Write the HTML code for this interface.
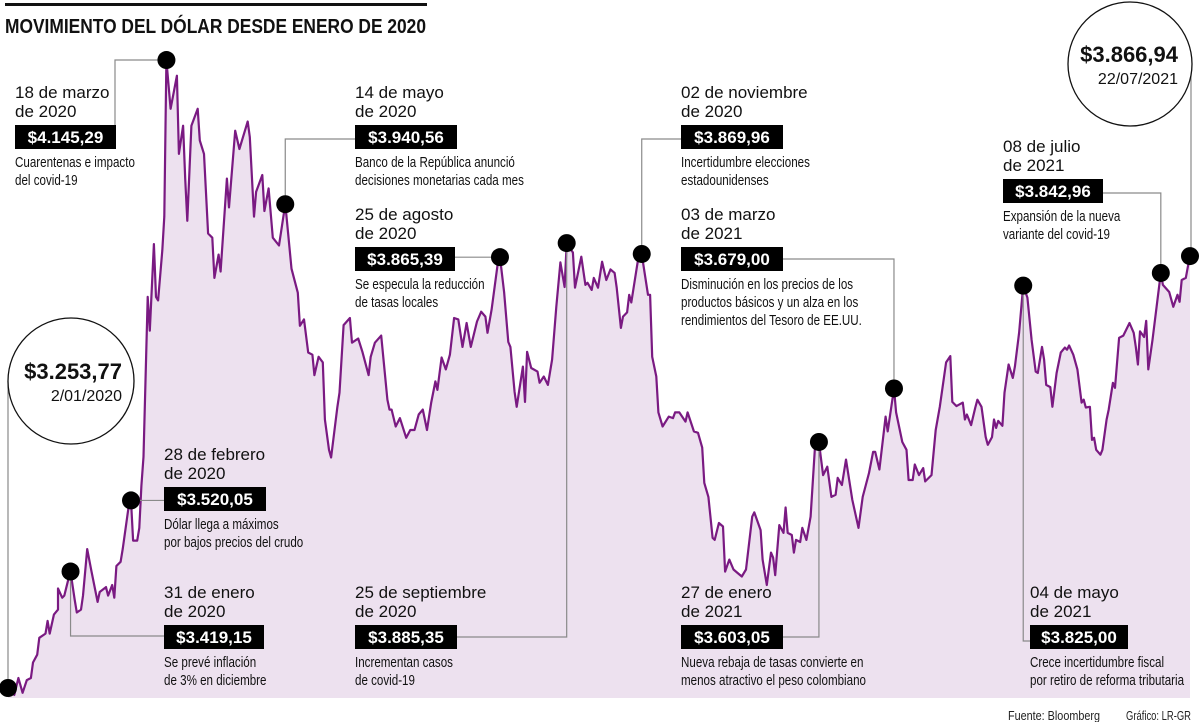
<!DOCTYPE html>
<html><head><meta charset="utf-8">
<style>
html,body{margin:0;padding:0;background:#fff;}
svg{display:block;font-family:"Liberation Sans",sans-serif;}
</style></head>
<body>
<svg id="chart" width="1200" height="722" viewBox="0 0 1200 722" xmlns="http://www.w3.org/2000/svg">
  <rect x="5" y="3" width="422" height="3" fill="#111"/>
  <text x="5" y="33" font-size="20" font-weight="bold" fill="#111" textLength="421" lengthAdjust="spacingAndGlyphs">MOVIMIENTO DEL DÓLAR DESDE ENERO DE 2020</text>
  <g id="plot"></g>
  <g id="annots"></g>
  <text x="1008" y="720" font-size="13" fill="#222" textLength="92" lengthAdjust="spacingAndGlyphs">Fuente: Bloomberg</text>
  <text x="1126" y="720" font-size="13" fill="#222" textLength="65" lengthAdjust="spacingAndGlyphs">Gráfico: LR-GR</text>
</svg>
<script>
// Days since 2020-01-02
const days = [0,3,5,7,9,11,12,14,15,18,19,20,22,24,24,26,27,29,30,32,33,35,36,38,40,43,44,47,48,50,51,52,54,55,58,59,60,62,63,64,65,67,68,70,71,72,74,75,76,78,81,82,84,85,86,88,91,92,94,96,98,99,101,102,105,106,109,111,115,116,118,119,122,123,125,127,130,133,136,139,140,142,144,146,147,149,151,152,154,155,158,159,161,164,165,168,170,173,174,176,179,182,183,184,186,188,191,193,195,197,199,201,203,205,206,208,210,212,214,216,218,220,222,225,227,229,230,232,235,236,238,240,241,243,244,247,248,249,251,254,255,257,259,261,263,265,267,268,271,272,275,277,278,280,281,283,285,287,289,291,292,294,295,297,298,299,302,304,307,308,309,311,312,314,317,319,320,322,325,326,329,331,333,334,336,338,339,341,343,344,346,348,350,352,354,357,358,361,362,364,366,367,368,370,372,373,374,376,377,378,380,381,383,385,387,389,391,393,395,397,398,400,402,405,408,410,413,415,416,418,421,422,425,426,429,431,432,434,435,437,439,440,443,445,447,450,452,453,455,458,459,460,462,464,465,467,469,470,472,473,474,475,477,478,480,482,483,485,487,489,491,493,494,496,497,498,500,501,503,505,507,508,509,511,513,515,516,517,519,520,521,522,524,525,527,528,530,531,533,535,536,538,540,541,542,543,545,546,547,549,551,553,554,557,559,561,562,563,565,566,567];
// COP per USD
const prices = [3254,3244,3268,3247,3265,3268,3290,3301,3325,3331,3349,3331,3358,3365,3395,3382,3385,3409,3419,3379,3361,3365,3385,3451,3420,3376,3390,3397,3385,3400,3382,3427,3433,3451,3514,3520,3463,3463,3481,3541,3582,3809,3761,3884,3809,3804,3875,3923,4145,4076,4123,4012,4052,3977,3917,4052,4076,4031,4012,3899,3893,3836,3869,3845,3977,3936,4045,4019,4058,4036,3923,3958,3982,3931,3963,3893,3882,3941,3849,3815,3768,3777,3730,3727,3698,3724,3716,3635,3592,3581,3653,3673,3769,3779,3744,3750,3731,3698,3724,3744,3754,3663,3649,3649,3625,3637,3609,3620,3620,3642,3649,3620,3659,3689,3677,3723,3706,3727,3779,3777,3738,3772,3738,3774,3788,3781,3758,3791,3858,3865,3816,3745,3738,3674,3653,3710,3660,3731,3708,3703,3687,3696,3684,3720,3795,3858,3823,3885,3872,3822,3866,3826,3829,3819,3836,3822,3859,3833,3848,3843,3822,3765,3781,3787,3812,3801,3858,3870,3812,3812,3724,3696,3645,3625,3639,3637,3645,3645,3632,3645,3618,3616,3595,3545,3525,3467,3464,3488,3483,3419,3436,3422,3417,3412,3422,3497,3503,3478,3436,3400,3446,3439,3414,3485,3474,3510,3474,3471,3446,3464,3461,3481,3464,3497,3592,3603,3556,3568,3525,3528,3552,3542,3578,3521,3481,3525,3559,3589,3589,3564,3639,3618,3679,3645,3603,3592,3549,3549,3571,3556,3566,3547,3556,3620,3653,3716,3725,3660,3654,3659,3635,3642,3627,3652,3663,3653,3610,3599,3610,3635,3623,3633,3626,3673,3713,3694,3710,3758,3825,3808,3748,3703,3701,3738,3720,3684,3681,3653,3701,3730,3737,3734,3740,3727,3706,3659,3663,3652,3653,3606,3609,3592,3585,3592,3635,3649,3687,3680,3751,3754,3760,3772,3758,3738,3713,3760,3752,3775,3706,3748,3795,3843,3826,3816,3795,3812,3802,3833,3836,3852,3867];
// Annotated points
const annotDays = [0,30,59,76,133,236,268,304,389,425,487,553,567];
const annotValues = [3253.77,3419.15,3520.05,4145.29,3940.56,3865.39,3885.35,3869.96,3603.05,3679.00,3825.00,3842.96,3866.94];

const NS="http://www.w3.org/2000/svg";
const X0=8, X1=1190, DMAX=567, BASEV=3253.77, BASEY=688, PXPER=0.7044, FLOOR=698;
function xs(d){return X0+d*(X1-X0)/DMAX;}
function ys(v){return BASEY-(v-BASEV)*PXPER;}
function mk(tag,attrs,parent){const e=document.createElementNS(NS,tag);for(const k in attrs)e.setAttribute(k,attrs[k]);parent.appendChild(e);return e;}

const plot=document.getElementById('plot');
let pts=days.map((d,i)=>xs(d).toFixed(1)+','+ys(prices[i]).toFixed(1));
const area=mk('path',{d:'M'+xs(days[0])+','+FLOOR+' L'+pts.join(' L')+' L'+xs(days[days.length-1])+','+FLOOR+' Z',fill:'#ede1ef'},plot);


const line=mk('path',{d:'M'+pts.join(' L'),fill:'none',stroke:'#7a1a82','stroke-width':2.2,'stroke-linejoin':'round'},plot);



const A=document.getElementById('annots');
const G='#8a8a8a';
function connector(points,name){
  const p=mk('polyline',{points:points.map(q=>q.join(',')).join(' '),fill:'none',stroke:G,'stroke-width':1.2},A);
  
  
}
function label(x,yTop,date1,date2,value,desc,name,boxW){
  const g=mk('g',{},A);
  
  
  const t1=mk('text',{x:x,y:yTop+14,'font-size':17,fill:'#111'},g);t1.textContent=date1;
  const t2=mk('text',{x:x,y:yTop+33,'font-size':17,fill:'#111'},g);t2.textContent=date2;
  mk('rect',{x:x,y:yTop+41,width:boxW||102,height:24,fill:'#000'},g);
  const tv=mk('text',{x:x+(boxW||102)/2,y:yTop+59,'font-size':17,'font-weight':'bold',fill:'#fff','text-anchor':'middle'},g);tv.textContent=value;
  desc.forEach((s,i)=>{
    const td=mk('text',{transform:'translate('+x+','+(yTop+83+i*18)+') scale(0.8,1)','font-size':14.5,fill:'#111'},g);
    td.textContent=s;
  });
}
function circ(cx,cy,r,v,d,tx,name){
  const g=mk('g',{},A);
  
  
  mk('circle',{cx:cx,cy:cy,r:r,fill:'#fff',stroke:'#111','stroke-width':1.3},g);
  const a=mk('text',{x:tx,y:cy-2,'font-size':22,'font-weight':'bold',fill:'#111','text-anchor':'end'},g);a.textContent=v;
  const b=mk('text',{x:tx,y:cy+20,'font-size':16,fill:'#111','text-anchor':'end'},g);b.textContent=d;
}
const P=annotDays.map((d,i)=>[xs(d),ys(annotValues[i])]);

connector([[8,381],[P[0][0],P[0][1]]],'connector-start');
connector([[P[1][0],P[1][1]],[P[1][0],636],[164,636]],'connector-jan31');
connector([[P[2][0],P[2][1]],[164,P[2][1]]],'connector-feb28');
connector([[P[3][0],P[3][1]],[115,P[3][1]],[115,128]],'connector-mar18');
connector([[P[4][0],P[4][1]],[P[4][0],139],[355,139]],'connector-may14');
connector([[455,P[5][1]],[P[5][0],P[5][1]]],'connector-aug25');
connector([[457,637],[P[6][0],637],[P[6][0],P[6][1]]],'connector-sep25');
connector([[P[7][0],P[7][1]],[P[7][0],139],[681,139]],'connector-nov02');
connector([[783,637],[P[8][0],637],[P[8][0],P[8][1]]],'connector-jan27');
connector([[783,259],[P[9][0],259],[P[9][0],P[9][1]]],'connector-mar03');
connector([[1030,641],[P[10][0],641],[P[10][0],P[10][1]]],'connector-may04');
connector([[1103,193],[P[11][0],193],[P[11][0],P[11][1]]],'connector-jul08');
connector([[1191,70],[P[12][0]+1,P[12][1]]],'connector-end');

P.forEach((p,i)=>{
  const c=mk('circle',{cx:p[0],cy:p[1],r:9,fill:'#000'},A);
  
  
});

circ(71,381,63,'$3.253,77','2/01/2020',122,'start-value-circle');
circ(1130,64,62,'$3.866,94','22/07/2021',1178,'end-value-circle');

label(15,84,'18 de marzo','de 2020','$4.145,29',['Cuarentenas e impacto','del covid-19'],'label-mar18',101);
label(355,84,'14 de mayo','de 2020','$3.940,56',['Banco de la República anunció','decisiones monetarias cada mes'],'label-may14',102);
label(355,206,'25 de agosto','de 2020','$3.865,39',['Se especula la reducción','de tasas locales'],'label-aug25',100);
label(681,84,'02 de noviembre','de 2020','$3.869,96',['Incertidumbre elecciones','estadounidenses'],'label-nov02',102);
label(681,206,'03 de marzo','de 2021','$3.679,00',['Disminución en los precios de los','productos básicos y un alza en los','rendimientos del Tesoro de EE.UU.'],'label-mar03',102);
label(1003,138,'08 de julio','de 2021','$3.842,96',['Expansión de la nueva','variante del covid-19'],'label-jul08',100);
label(164,446,'28 de febrero','de 2020','$3.520,05',['Dólar llega a máximos','por bajos precios del crudo'],'label-feb28',102);
label(164,584,'31 de enero','de 2020','$3.419,15',['Se prevé inflación','de 3% en diciembre'],'label-jan31',100);
label(355,584,'25 de septiembre','de 2020','$3.885,35',['Incrementan casos','de covid-19'],'label-sep25',102);
label(681,584,'27 de enero','de 2021','$3.603,05',['Nueva rebaja de tasas convierte en','menos atractivo el peso colombiano'],'label-jan27',102);
label(1030,584,'04 de mayo','de 2021','$3.825,00',['Crece incertidumbre fiscal','por retiro de reforma tributaria'],'label-may04',98);
</script>
</body></html>
